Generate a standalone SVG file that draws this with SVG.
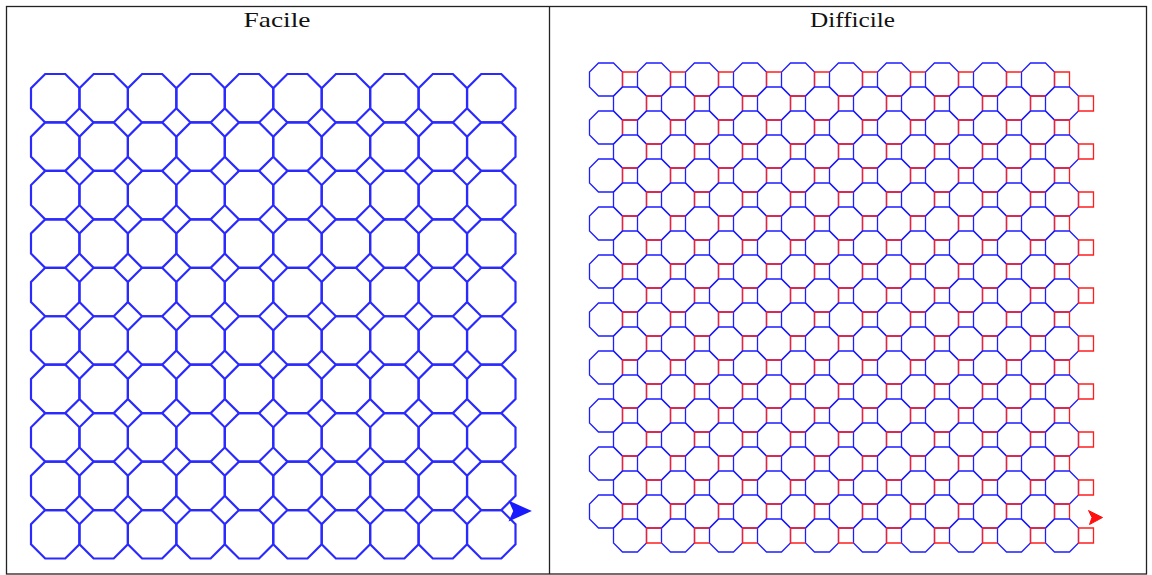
<svg xmlns="http://www.w3.org/2000/svg" xmlns:xlink="http://www.w3.org/1999/xlink" width="1152" height="575" viewBox="0 0 1152 575">
<style>
.frame{fill:none;stroke:#222;stroke-width:1.3}
.title{font-family:"Liberation Serif","DejaVu Serif",serif;font-size:22px;fill:#111;text-anchor:middle}
.eo{fill:none;stroke:#2a2aff;stroke-width:2.2;stroke-linejoin:miter}
.ho{fill:none;stroke:#1e1eff;stroke-width:1.3}
.hs{fill:none;stroke:#ff1e1e;stroke-width:1.3}
</style>
<defs>
<path id="oct-easy" class="eo" d="M14.19,0H34.26L48.45,14.19V34.26L34.26,48.45H14.19L0,34.26V14.19Z"/>
<g id="lrow">
<use href="#oct-easy" x="0"/><use href="#oct-easy" x="48.45"/><use href="#oct-easy" x="96.9"/><use href="#oct-easy" x="145.35"/><use href="#oct-easy" x="193.8"/><use href="#oct-easy" x="242.25"/><use href="#oct-easy" x="290.7"/><use href="#oct-easy" x="339.15"/><use href="#oct-easy" x="387.6"/><use href="#oct-easy" x="436.05"/>
</g>
<path id="oct-hard" class="ho" d="M-7.5,-16.5H7.5L16.5,-7.5V7.5L7.5,16.5H-7.5L-16.5,7.5V-7.5Z"/>
<path id="sq-tl" class="hs" d="M-7.5,7.5V-7.5H7.5"/>
<path id="sq-tlr" class="hs" d="M-7.5,7.5V-7.5H7.5V7.5"/>
<path id="sq-tlb" class="hs" d="M7.5,7.5H-7.5V-7.5H7.5"/>
<path id="sq-full" class="hs" d="M-7.5,-7.5H7.5V7.5H-7.5Z"/>
<g id="reven">
<use href="#oct-hard" x="606"/><use href="#oct-hard" x="654"/><use href="#oct-hard" x="702"/><use href="#oct-hard" x="750"/><use href="#oct-hard" x="798"/><use href="#oct-hard" x="846"/><use href="#oct-hard" x="894"/><use href="#oct-hard" x="942"/><use href="#oct-hard" x="990"/><use href="#oct-hard" x="1038"/>
<use href="#sq-tl" x="630"/><use href="#sq-tl" x="678"/><use href="#sq-tl" x="726"/><use href="#sq-tl" x="774"/><use href="#sq-tl" x="822"/><use href="#sq-tl" x="870"/><use href="#sq-tl" x="918"/><use href="#sq-tl" x="966"/><use href="#sq-tl" x="1014"/><use href="#sq-tlr" x="1062"/>
</g>
<g id="rodd">
<use href="#oct-hard" x="630"/><use href="#oct-hard" x="678"/><use href="#oct-hard" x="726"/><use href="#oct-hard" x="774"/><use href="#oct-hard" x="822"/><use href="#oct-hard" x="870"/><use href="#oct-hard" x="918"/><use href="#oct-hard" x="966"/><use href="#oct-hard" x="1014"/><use href="#oct-hard" x="1062"/>
<use href="#sq-tl" x="654"/><use href="#sq-tl" x="702"/><use href="#sq-tl" x="750"/><use href="#sq-tl" x="798"/><use href="#sq-tl" x="846"/><use href="#sq-tl" x="894"/><use href="#sq-tl" x="942"/><use href="#sq-tl" x="990"/><use href="#sq-tl" x="1038"/><use href="#sq-full" x="1086"/>
</g>
<g id="rlast">
<use href="#oct-hard" x="630"/><use href="#oct-hard" x="678"/><use href="#oct-hard" x="726"/><use href="#oct-hard" x="774"/><use href="#oct-hard" x="822"/><use href="#oct-hard" x="870"/><use href="#oct-hard" x="918"/><use href="#oct-hard" x="966"/><use href="#oct-hard" x="1014"/><use href="#oct-hard" x="1062"/>
<use href="#sq-tlb" x="654"/><use href="#sq-tlb" x="702"/><use href="#sq-tlb" x="750"/><use href="#sq-tlb" x="798"/><use href="#sq-tlb" x="846"/><use href="#sq-tlb" x="894"/><use href="#sq-tlb" x="942"/><use href="#sq-tlb" x="990"/><use href="#sq-tlb" x="1038"/><use href="#sq-full" x="1086"/>
</g>
</defs>
<rect width="1152" height="575" fill="#fff"/>
<g id="table">
<rect class="frame" x="6.5" y="6.5" width="1140" height="567.5"/>
<line class="frame" x1="549.5" y1="6.5" x2="549.5" y2="574"/>
<text class="title" x="277" y="27" textLength="67" lengthAdjust="spacingAndGlyphs">Facile</text>
<text class="title" x="852.5" y="27" textLength="85" lengthAdjust="spacingAndGlyphs">Difficile</text>
</g>
<g id="grid-easy" transform="translate(31,74)">
<use href="#lrow" y="0"/><use href="#lrow" y="48.45"/><use href="#lrow" y="96.9"/><use href="#lrow" y="145.35"/><use href="#lrow" y="193.8"/><use href="#lrow" y="242.25"/><use href="#lrow" y="290.7"/><use href="#lrow" y="339.15"/><use href="#lrow" y="387.6"/><use href="#lrow" y="436.05"/>
</g>
<polygon id="turtle-easy" points="530,511 510,502 514,511 510,520" fill="#1a1aff" stroke="#1a1aff" stroke-width="1.5" stroke-linejoin="miter"/>
<g id="grid-hard" transform="translate(0,79.5)">
<use href="#reven" y="0"/><use href="#rodd" y="24"/><use href="#reven" y="48"/><use href="#rodd" y="72"/><use href="#reven" y="96"/><use href="#rodd" y="120"/><use href="#reven" y="144"/><use href="#rodd" y="168"/><use href="#reven" y="192"/><use href="#rodd" y="216"/><use href="#reven" y="240"/><use href="#rodd" y="264"/><use href="#reven" y="288"/><use href="#rodd" y="312"/><use href="#reven" y="336"/><use href="#rodd" y="360"/><use href="#reven" y="384"/><use href="#rodd" y="408"/><use href="#reven" y="432"/><use href="#rlast" y="456"/>
</g>
<polygon id="turtle-hard" points="1102.5,517.5 1088.5,510.5 1092,517.5 1089.5,524.5" fill="#ff1010" stroke="#ff1010" stroke-width="1" stroke-linejoin="miter"/>
</svg>
